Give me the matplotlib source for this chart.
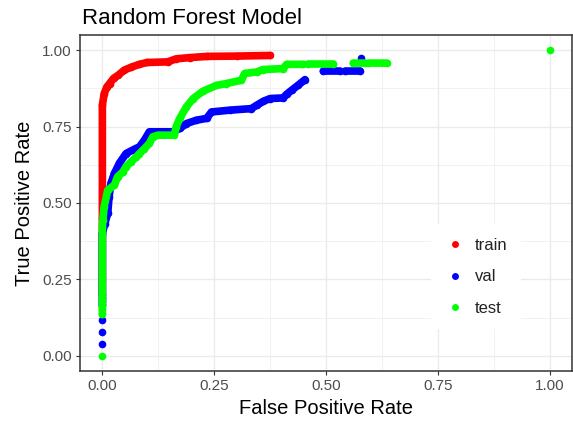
import numpy as np
import matplotlib
matplotlib.use("Agg")
import matplotlib.pyplot as plt
from matplotlib.lines import Line2D

plt.rcParams['font.family'] = ['Liberation Sans', 'DejaVu Sans']

nan = np.nan

# ROC points (nan = gap between point runs)
train_fpr = [0, 0, 0, 0.004, 0.010, 0.016, 0.025, 0.035, 0.049, 0.065, 0.083,
             0.100, 0.146, 0.165, 0.195, 0.235, 0.300, 0.375]
train_tpr = [0.20, 0.45, 0.82, 0.858, 0.880, 0.891, 0.908, 0.918, 0.935, 0.945,
             0.954, 0.960, 0.962, 0.972, 0.976, 0.980, 0.981, 0.983]

val_fpr = [0, nan, 0, nan, 0, nan, 0, 0,
           0, 0, 0.005, 0.012, 0.015, 0.019, 0.027, 0.038, 0.053, 0.070, 0.083,
           0.094, 0.105, 0.157, 0.173, 0.188, 0.210, 0.233, 0.244, 0.285, 0.333,
           0.345, 0.360, 0.375, 0.404, 0.412, 0.423, 0.438, 0.453, nan,
           0.494, 0.531, nan, 0.543, 0.576, nan, 0.578]
val_tpr = [0.037, nan, 0.078, nan, 0.118, nan, 0.165, 0.18,
           0.19, 0.40, 0.43, 0.466, 0.520, 0.564, 0.597, 0.630, 0.662, 0.675, 0.684,
           0.706, 0.733, 0.733, 0.744, 0.760, 0.771, 0.777, 0.798, 0.804, 0.809,
           0.820, 0.833, 0.842, 0.844, 0.856, 0.869, 0.886, 0.904, nan,
           0.932, 0.932, nan, 0.932, 0.932, nan, 0.976]

test_fpr = [0, nan, 0, 0,
            0, 0, 0.001, 0.004, 0.012, 0.027, 0.034, 0.046, 0.053, 0.064, 0.076,
            0.083, 0.094, 0.105, 0.113, 0.124, 0.161, 0.165, 0.173, 0.188, 0.203,
            0.225, 0.255, 0.277, 0.311, 0.318, 0.345, 0.359, 0.404, 0.412, 0.449, nan,
            0.460, 0.516, nan, 0.561, 0.587, nan, 0.595, 0.636, nan, 1.0]
test_tpr = [0.0, nan, 0.135, 0.152,
            0.19, 0.42, 0.444, 0.488, 0.542, 0.559, 0.586, 0.602, 0.619, 0.635, 0.651,
            0.662, 0.678, 0.695, 0.717, 0.722, 0.722, 0.750, 0.777, 0.815, 0.842,
            0.866, 0.885, 0.891, 0.902, 0.924, 0.929, 0.937, 0.940, 0.954, 0.954, nan,
            0.955, 0.955, nan, 0.958, 0.958, nan, 0.958, 0.958, nan, 1.0]

series = ['train', 'val', 'test']
colors = ['#FF0000', '#0000FF', '#00FF00']
ticks = [0, 0.25, 0.5, 0.75, 1.0]
tick_labels = ['0.00', '0.25', '0.50', '0.75', '1.00']

fig = plt.figure(figsize=(5.73, 4.29), dpi=100)
ax = fig.add_axes([80 / 573, 58 / 429, 492 / 573, 336 / 429])

for xs, ys, c in zip([train_fpr, val_fpr, test_fpr], [train_tpr, val_tpr, test_tpr], colors):
    ax.plot(xs, ys, '-', color=c, lw=5.5, marker='o', ms=5.5, mew=0,
            solid_capstyle='round', solid_joinstyle='round', zorder=3)

ax.set_xlim(-0.05, 1.05)
ax.set_ylim(-0.05, 1.05)
ax.set_xticks(ticks)
ax.set_xticklabels(tick_labels)
ax.set_yticks(ticks)
ax.set_yticklabels(tick_labels)
ax.set_xticks([0.125, 0.375, 0.625, 0.875], minor=True)
ax.set_yticks([0.125, 0.375, 0.625, 0.875], minor=True)
ax.grid(which='major', color='#EBEBEB', lw=1.0, zorder=0)
ax.grid(which='minor', color='#EBEBEB', lw=0.5, zorder=0)
ax.set_axisbelow(True)
ax.tick_params(which='major', length=3, width=0.8, color='#333333',
               labelcolor='#4D4D4D', labelsize=11, pad=3)
ax.tick_params(which='minor', length=0)
for s in ax.spines.values():
    s.set_color('#333333')
    s.set_linewidth(1.1)

ax.set_xlabel('False Positive Rate', fontsize=14.5, labelpad=4)
ax.set_ylabel('True Positive Rate', fontsize=14.5, labelpad=6)
fig.text(82 / 573, 1 - 24 / 429, 'Random Forest Model', fontsize=16,
         ha='left', va='baseline')

handles = [Line2D([], [], ls='none', marker='o', ms=5, mew=0, color=c) for c in colors]
leg = ax.legend(handles, series, loc='center', bbox_to_anchor=(0.805, 0.28),
                frameon=True, fontsize=12, labelspacing=1.0, handletextpad=0.6,
                borderpad=0.8, handlelength=1.2)
leg.get_frame().set_facecolor('white')
leg.get_frame().set_edgecolor('none')
leg.get_frame().set_alpha(1)
for t in leg.get_texts():
    t.set_color('#222222')

fig.savefig('out.png', dpi=100)
